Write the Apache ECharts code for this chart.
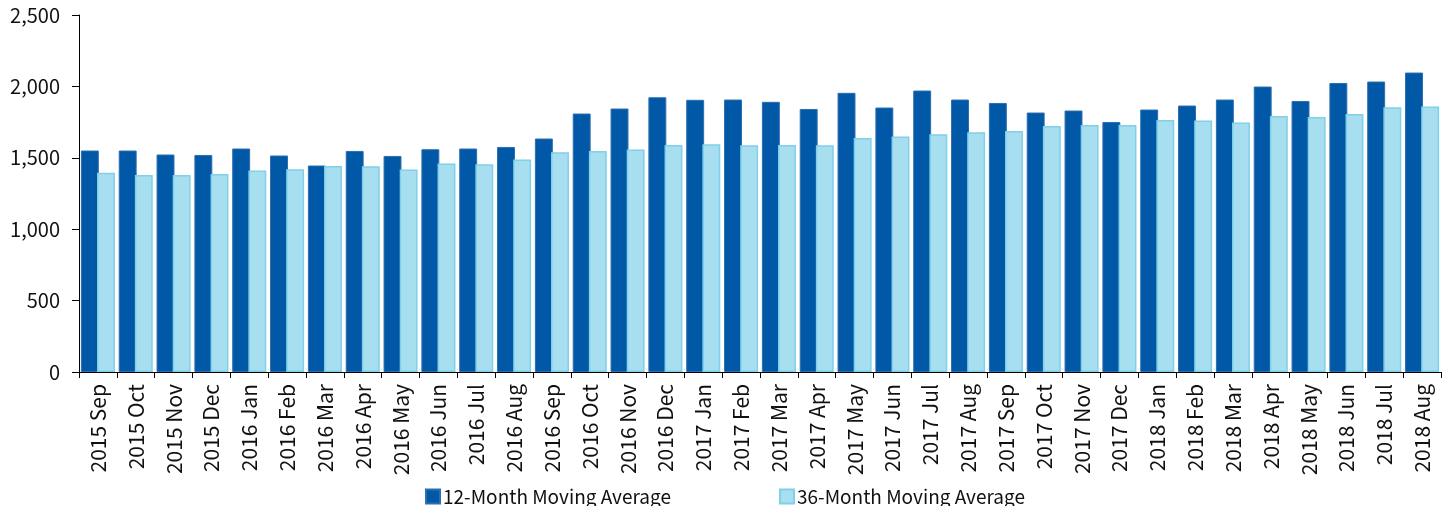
<!DOCTYPE html>
<html>
<head>
<meta charset="utf-8">
<script src="https://cdn.jsdelivr.net/npm/echarts@6/dist/echarts.min.js"></script>
<style>
html,body{margin:0;padding:0;background:#fff;}
#chart{width:1447px;height:506px;}
</style>
</head>
<body>
<div id="chart"></div>
<script>
// 月份类别
var months = ['2015 Sep','2015 Oct','2015 Nov','2015 Dec',
	'2016 Jan','2016 Feb','2016 Mar','2016 Apr','2016 May','2016 Jun','2016 Jul','2016 Aug','2016 Sep','2016 Oct','2016 Nov','2016 Dec',
	'2017 Jan','2017 Feb','2017 Mar','2017 Apr','2017 May','2017 Jun','2017 Jul','2017 Aug','2017 Sep','2017 Oct','2017 Nov','2017 Dec',
	'2018 Jan','2018 Feb','2018 Mar','2018 Apr','2018 May','2018 Jun','2018 Jul','2018 Aug'];

// 12个月移动平均
var avg12 = [1551,1551,1523,1520,1565,1516,1446,1548,1513,1560,1565,1576,1635,1810,1845,1924,
	1906,1908,1892,1842,1955,1852,1971,1908,1884,1817,1831,1751,1838,1866,1908,1999,1898,2024,2034,2097];

// 36个月移动平均
var avg36 = [1396,1380,1380,1387,1411,1420,1443,1441,1418,1460,1455,1488,1539,1548,1558,1590,
	1595,1588,1590,1588,1639,1649,1665,1679,1688,1723,1730,1730,1765,1761,1747,1793,1786,1807,1854,1859];

var yTicks = {min:0, max:2500, interval:500};

var fontName = '"Noto Sans CJK SC", "Noto Sans", sans-serif';

var chart = echarts.init(document.getElementById('chart'));

var option = {
	animation:false,
	textStyle:{fontFamily:fontName},
	grid:{
		left:79,
		right:6,
		top:15,
		bottom:134
	},
	legend:{
		top:482,
		left:420,
		itemGap:108,
		itemWidth:14,
		itemHeight:14,
		icon:'rect',
		textStyle:{fontSize:19, color:'#111', fontFamily:fontName, padding:[0,0,0,-2]},
		data:['12-Month Moving Average','36-Month Moving Average']
	},
	xAxis:{
		type:'category',
		data:months,
		axisLine:{lineStyle:{color:'#000', width:1}},
		axisTick:{show:true, length:6, alignWithLabel:false, lineStyle:{color:'#000'}},
		axisLabel:{
			rotate:90,
			interval:0,
			fontSize:21,
			color:'#111',
			margin:12,
			fontFamily:fontName
		}
	},
	yAxis:{
		type:'value',
		min:yTicks.min,
		max:yTicks.max,
		interval:yTicks.interval,
		axisLine:{show:true, lineStyle:{color:'#000', width:1}},
		axisTick:{show:true, length:7, lineStyle:{color:'#000'}},
		splitLine:{show:false},
		axisLabel:{
			fontSize:20,
			color:'#111',
			margin:19,
			fontFamily:fontName,
			formatter:function(v){
				return v.toString().replace(/\B(?=(\d{3})+(?!\d))/g, ',');
			}
		}
	},
	series:[
		{
			name:'12-Month Moving Average',
			type:'bar',
			data:avg12,
			barGap:'-10%',
			barCategoryGap:'10%',
			itemStyle:{color:'#0058a6', borderColor:'#2b6fb0', borderWidth:1}
		},
		{
			name:'36-Month Moving Average',
			type:'bar',
			data:avg36,
			itemStyle:{color:'#a8dff0', borderColor:'#7fd0e8', borderWidth:1.5}
		}
	]
};

chart.setOption(option);
</script>
</body>
</html>
